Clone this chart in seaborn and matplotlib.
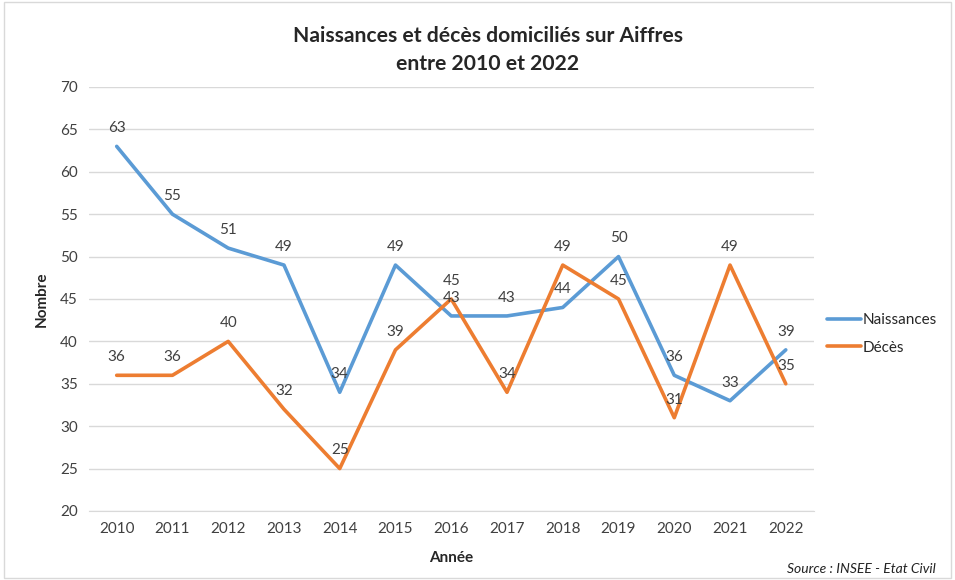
"""Naissances et décès domiciliés sur Aiffres, 2010-2022."""

import matplotlib.pyplot as plt
import pandas as pd
import seaborn as sns
from matplotlib.patches import Rectangle

YEARS = list(range(2010, 2023))
NAISSANCES = [63, 55, 51, 49, 34, 49, 43, 43, 44, 50, 36, 33, 39]
DECES = [36, 36, 40, 32, 25, 39, 45, 34, 49, 45, 31, 49, 35]
SERIES = ["Naissances", "Décès"]
COLORS = ["#5B9BD5", "#ED7D31"]
TITLE = "Naissances et décès domiciliés sur Aiffres\nentre 2010 et 2022"
SOURCE = "Source : INSEE - Etat Civil"


def build_frame() -> pd.DataFrame:
    df = pd.DataFrame({"Année": YEARS, SERIES[0]: NAISSANCES, SERIES[1]: DECES})
    df = df.melt(id_vars="Année", var_name="Série", value_name="Nombre")
    df["pos"] = df["Année"] - YEARS[0]
    return df


def main() -> None:
    sns.set_style("white")
    plt.rcParams["font.family"] = ["Lato", "DejaVu Sans"]
    df = build_frame()

    fig = plt.figure(figsize=(9.55, 5.8), dpi=100)
    ax = fig.add_axes([0.093, 0.119, 0.759, 0.731])
    fig.patches.append(Rectangle((0.004, 0.004), 0.992, 0.992, transform=fig.transFigure,
                                 fill=False, edgecolor="#D9D9D9", linewidth=1))

    sns.lineplot(data=df, x="pos", y="Nombre", hue="Série", hue_order=SERIES,
                 palette=COLORS, linewidth=2.6, ax=ax, legend=True)

    for name, values in zip(SERIES, [NAISSANCES, DECES]):
        for i, v in enumerate(values):
            ax.annotate(str(v), (i, v), xytext=(0, 8), textcoords="offset points",
                        ha="center", va="bottom", fontsize=11, color="#404040")

    ax.set_xlim(-0.5, len(YEARS) - 0.5)
    ax.set_ylim(20, 70)
    ax.set_yticks(range(20, 71, 5))
    ax.set_xticks(range(len(YEARS)))
    ax.set_xticklabels([str(y) for y in YEARS])
    ax.tick_params(axis="both", labelsize=11, labelcolor="#404040", length=0, pad=8)
    ax.yaxis.grid(True, color="#D9D9D9", linewidth=1)
    ax.set_axisbelow(True)
    sns.despine(ax=ax, left=True, bottom=True)
    ax.spines["bottom"].set_visible(True)
    ax.spines["bottom"].set_color("#D9D9D9")

    ax.set_xlabel("Année", fontsize=11, fontweight="bold", labelpad=11)
    ax.set_ylabel("Nombre", fontsize=11, fontweight="bold", labelpad=8)
    fig.suptitle(TITLE, x=0.511, y=0.955, fontsize=15.2, fontweight="bold",
                 linespacing=1.5)

    leg = ax.legend(loc="center left", bbox_to_anchor=(1.0, 0.418), frameon=False,
                    fontsize=11, handlelength=2.2, handletextpad=0.1,
                    labelspacing=0.9)
    for line in leg.get_lines():
        line.set_linewidth(2.6)

    fig.text(0.98, 0.008, SOURCE, ha="right", va="bottom", fontsize=10,
             fontstyle="italic", color="#222222")

    fig.savefig("out.png", dpi=100)
    plt.close(fig)


if __name__ == "__main__":
    main()
